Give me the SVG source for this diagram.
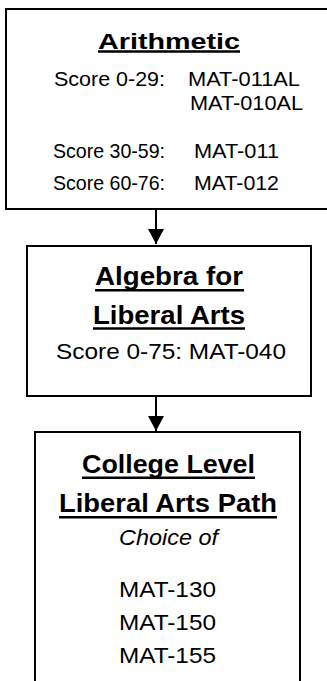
<svg xmlns="http://www.w3.org/2000/svg" width="327" height="681" viewBox="0 0 327 681">
<style>
.box{fill:#fff;stroke:#000;stroke-width:2}
.t{font-family:"Liberation Sans",Arial,sans-serif;font-weight:bold;font-size:25px;fill:#000}
.t1{font-size:22px}
.b{font-family:"Liberation Sans",Arial,sans-serif;font-size:22.5px;fill:#000}
.b1{font-size:21px}
.i{font-style:italic}
.u{stroke:#000;stroke-width:2.5}
.c{stroke:#000;stroke-width:2;fill:none}
</style>
<defs>
<marker id="ah" markerWidth="7.5" markerHeight="8" refX="7.5" refY="4" orient="auto" markerUnits="strokeWidth">
<path d="M0,0 L7.5,4 L0,8 Z" fill="#000"/>
</marker>
</defs>
<g id="connectors">
<line class="c" x1="156" y1="209" x2="156" y2="244" marker-end="url(#ah)"/>
<line class="c" x1="156" y1="396" x2="156" y2="431" marker-end="url(#ah)"/>
</g>
<g id="arithmetic">
<rect class="box" x="6" y="9" width="340" height="200"/>
<text class="t t1" x="98" y="49" textLength="142" lengthAdjust="spacingAndGlyphs">Arithmetic</text>
<line class="u" x1="98" y1="51.5" x2="240" y2="51.5"/>
<text class="b b1" x="54" y="86" textLength="111" lengthAdjust="spacingAndGlyphs">Score 0-29:</text>
<text class="b b1" x="188" y="86" textLength="112" lengthAdjust="spacingAndGlyphs">MAT-011AL</text>
<text class="b b1" x="190" y="110" textLength="113" lengthAdjust="spacingAndGlyphs">MAT-010AL</text>
<text class="b b1" x="53" y="158" textLength="112" lengthAdjust="spacingAndGlyphs">Score 30-59:</text>
<text class="b b1" x="194" y="158" textLength="85" lengthAdjust="spacingAndGlyphs">MAT-011</text>
<text class="b b1" x="53" y="190" textLength="112" lengthAdjust="spacingAndGlyphs">Score 60-76:</text>
<text class="b b1" x="194" y="190" textLength="85" lengthAdjust="spacingAndGlyphs">MAT-012</text>
</g>
<g id="algebra">
<rect class="box" x="27" y="246" width="284" height="150"/>
<text class="t" x="95" y="285" textLength="148" lengthAdjust="spacingAndGlyphs">Algebra for</text>
<line class="u" x1="95" y1="290.3" x2="244" y2="290.3"/>
<text class="t" x="93" y="324" textLength="152" lengthAdjust="spacingAndGlyphs">Liberal Arts</text>
<line class="u" x1="93" y1="328.5" x2="245" y2="328.5"/>
<text class="b" x="56" y="359" textLength="230" lengthAdjust="spacingAndGlyphs">Score 0-75:  MAT-040</text>
</g>
<g id="college">
<rect class="box" x="35" y="432" width="265" height="260"/>
<text class="t" x="82" y="473" textLength="173" lengthAdjust="spacingAndGlyphs">College Level</text>
<line class="u" x1="82" y1="477.8" x2="255" y2="477.8"/>
<text class="t" x="59" y="512" textLength="218" lengthAdjust="spacingAndGlyphs">Liberal Arts Path</text>
<line class="u" x1="59" y1="517.2" x2="277" y2="517.2"/>
<text class="b i" x="119" y="545" textLength="99" lengthAdjust="spacingAndGlyphs">Choice of</text>
<text class="b" x="119" y="597" textLength="97" lengthAdjust="spacingAndGlyphs">MAT-130</text>
<text class="b" x="119" y="630" textLength="97" lengthAdjust="spacingAndGlyphs">MAT-150</text>
<text class="b" x="119" y="663" textLength="97" lengthAdjust="spacingAndGlyphs">MAT-155</text>
</g>
</svg>
